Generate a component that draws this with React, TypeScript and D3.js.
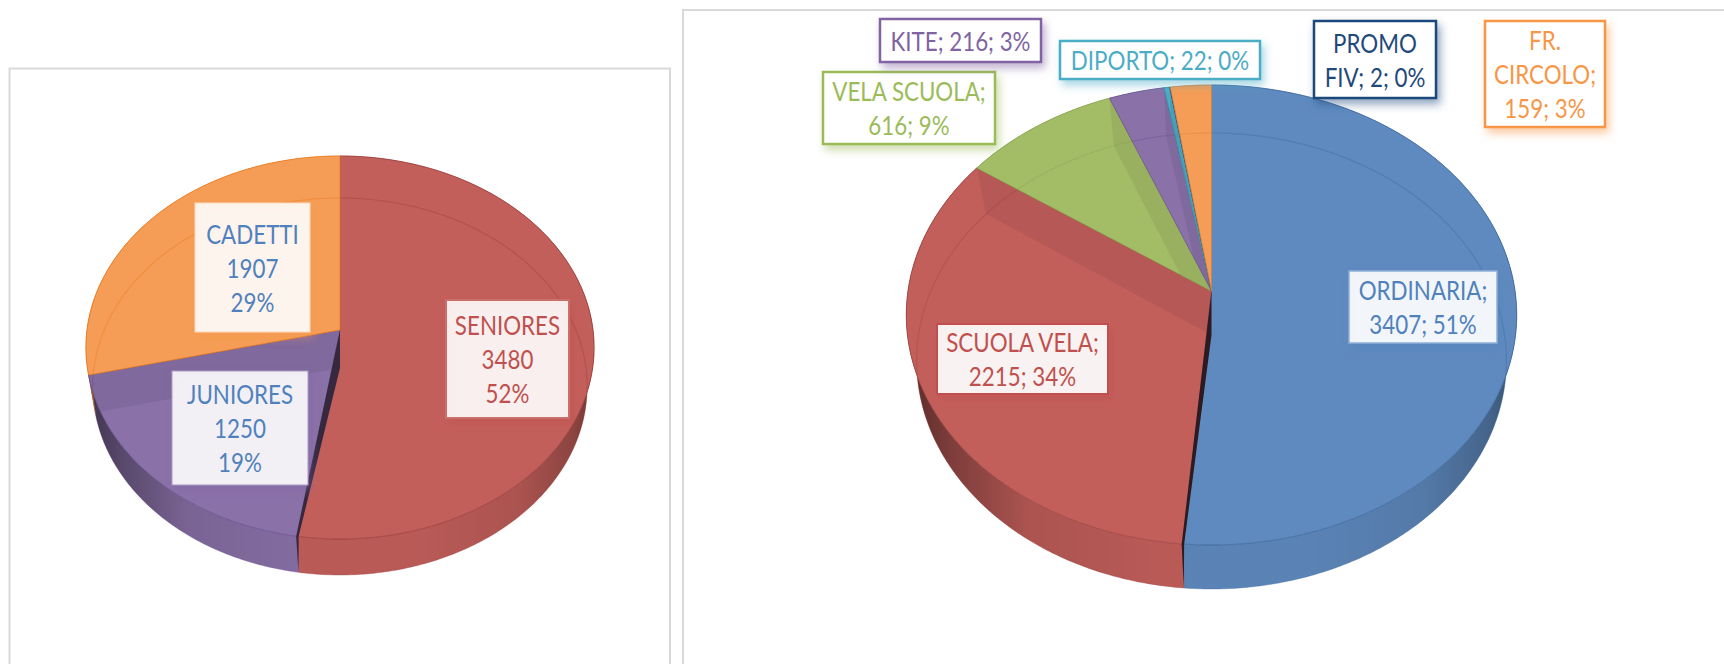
import React from "react";
import * as d3 from "d3";

// ---------- data ----------
const ageNames = ["SENIORES", "JUNIORES", "CADETTI"];
const ageValues = [3480, 1250, 1907];
const agePercents = [52, 19, 29];
const ageColors = ["#c35f5b", "#8a71a8", "#f59d56"];
const ageEdges = ["#9c3f3c", "#6a5290", "#e87a1e"];

const typeNames = ["ORDINARIA", "SCUOLA VELA", "VELA SCUOLA", "KITE", "DIPORTO", "PROMO FIV", "FR. CIRCOLO"];
const typeValues = [3407, 2215, 616, 216, 22, 2, 159];
const typePercents = [51, 34, 9, 3, 0, 0, 3];
const typeColors = ["#5f8abf", "#c35f5b", "#a3bd67", "#8a71a8", "#4bacc6", "#1f497d", "#f59d56"];
const typeEdges = ["#3f6a9f", "#a04542", "#8aa552", "#6f5690", "#3a93ab", "#1f497d", "#d9823c"];

// ---------- layout ----------
const leftPie = { id: "a", cx: 340, apex: 330, top: 156, front: 539, rx: 253, apex2: 368, top2: 198, front2: 575, rx2: 246, wedge: "#35283f" };
const rightPie = { id: "b", cx: 1211.5, apex: 291, top: 85, front: 545, rx: 303.5, apex2: 335, top2: 133, front2: 589, rx2: 293, wedge: "#2c1b20" };

const leftBoxes = [
  { i: 0, x: 446, y: 300, w: 123, h: 118, color: "#c0504d", border: "#c9706d", bw: 2, fill: "#c0504d", op: 0.88 },
  { i: 1, x: 172, y: 371, w: 136, h: 114, color: "#4f81bd", border: "#a99bc4", bw: 1, fill: "#8064a2", op: 0.88 },
  { i: 2, x: 195, y: 203, w: 115, h: 129, color: "#4f81bd", border: "#fbd9bb", bw: 1, fill: "#f79646", op: 0.88 },
];
const rightBoxes = [
  { i: 0, x: 1349, y: 271, w: 148, h: 72, color: "#4f81bd", border: "#8fb0d8", bw: 1.5, fill: "#4f81bd", op: 0.9, breaks: [1, 2] },
  { i: 1, x: 937, y: 324, w: 171, h: 70, color: "#c0504d", border: "#c0504d", bw: 2, fill: "#c0504d", op: 0.9, breaks: [2, 2] },
  { i: 2, x: 823, y: 72, w: 172, h: 72, color: "#9bbb59", border: "#9bbb59", bw: 2.5, fill: "#9bbb59", op: 1, breaks: [2, 2] },
  { i: 3, x: 880, y: 19, w: 161, h: 43, color: "#8064a2", border: "#8064a2", bw: 2.5, fill: "#8064a2", op: 1, breaks: [3] },
  { i: 4, x: 1060, y: 41, w: 200, h: 38, color: "#4bacc6", border: "#4bacc6", bw: 2.5, fill: "#4bacc6", op: 1, breaks: [3] },
  { i: 5, x: 1314, y: 21, w: 122, h: 77, color: "#1f497d", border: "#1f497d", bw: 2.5, fill: "#1f497d", op: 1, breaks: [1, 3] },
  { i: 6, x: 1485, y: 21, w: 120, h: 106, color: "#f79646", border: "#f79646", bw: 2.5, fill: "#f79646", op: 1, breaks: [1, 1, 2] },
];

const FONT = "Lato, 'Open Sans', sans-serif";

type Pt = [number, number];

function projector(cx: number, apex: number, top: number, front: number, rx: number) {
  const a = apex - top;
  const b = front - apex;
  const k = (b - a) / (b + a);
  const ry = a * (1 + k);
  return (t: number): Pt => {
    const u = Math.sin(t);
    const v = -Math.cos(t);
    const w = 1 - k * v;
    return [cx + (rx * u) / w, apex + (ry * v) / w];
  };
}

const line = d3.line<Pt>();
const closed = (pts: Pt[]) => (line(pts) as string) + "Z";

function samples(a: number, b: number): number[] {
  const n = Math.max(2, Math.ceil((b - a) / 0.01));
  return d3.range(n + 1).map((i) => a + ((b - a) * i) / n);
}

function Pie({ cfg, values, colors, edges }: { cfg: typeof leftPie; values: number[]; colors: string[]; edges: string[] }) {
  const arcs = d3.pie<number>().sort(null).value((d) => d)(values);
  const pTop = projector(cfg.cx, cfg.apex, cfg.top, cfg.front, cfg.rx);
  const pBot = projector(cfg.cx, cfg.apex2, cfg.top2, cfg.front2, cfg.rx2);
  const full = closed(samples(0, Math.PI * 2).map(pBot));
  const faces = arcs.map((a) => closed([[cfg.cx, cfg.apex] as Pt, ...samples(a.startAngle, a.endAngle).map(pTop)]));
  const gradId = `shade-${cfg.id}`;
  const first = arcs[0];
  const rimT = pTop(first.endAngle);
  const rimB = pBot(first.endAngle);
  const x0 = cfg.cx - cfg.rx;
  const x1 = cfg.cx + cfg.rx;
  return (
    <g>
      <defs>
        <linearGradient id={gradId} gradientUnits="userSpaceOnUse" x1={x0} x2={x1} y1={0} y2={0}>
          <stop offset="0" stopColor="#000" stopOpacity={0.55} />
          <stop offset="0.07" stopColor="#000" stopOpacity={0.36} />
          <stop offset="0.2" stopColor="#000" stopOpacity={0.12} />
          <stop offset="0.42" stopColor="#000" stopOpacity={0.05} />
          <stop offset="0.65" stopColor="#000" stopOpacity={0.05} />
          <stop offset="0.85" stopColor="#000" stopOpacity={0.12} />
          <stop offset="0.96" stopColor="#000" stopOpacity={0.28} />
          <stop offset="1" stopColor="#000" stopOpacity={0.42} />
        </linearGradient>
        {faces.map((d, i) => (
          <clipPath key={i} id={`face-${cfg.id}-${i}`}>
            <path d={d} />
          </clipPath>
        ))}
      </defs>
      {/* outer walls */}
      {arcs.map((a, i) => {
        const s = samples(a.startAngle, a.endAngle);
        const d = closed([...s.map(pTop), ...s.slice().reverse().map(pBot)]);
        return (
          <g key={i}>
            <path d={d} fill={colors[i]} />
            <path d={d} fill={`url(#${gradId})`} stroke={edges[i]} strokeOpacity={0.5} strokeWidth={0.7} />
          </g>
        );
      })}
      {/* top faces with what shows through them */}
      {arcs.map((a, i) => (
        <g key={i}>
          <path d={faces[i]} fill={colors[i]} />
          <g clipPath={`url(#face-${cfg.id}-${i})`}>
            {i > 0 && (
              <path
                d={closed([[cfg.cx, cfg.apex], pTop(a.endAngle), pBot(a.endAngle), [cfg.cx, cfg.apex2]])}
                fill={d3.rgb(colors[i]).darker(0.2).formatHex()}
              />
            )}
            <path d={full} fill="none" stroke={edges[i]} strokeOpacity={0.4} strokeWidth={1.2} />
          </g>
          <path d={faces[i]} fill="none" stroke={edges[i]} strokeWidth={1} strokeOpacity={0.8} />
        </g>
      ))}
      {/* dark inner wall at the front cut */}
      <path
        d={closed([
          [cfg.cx, cfg.apex],
          [cfg.cx, cfg.apex2],
          [rimT[0] + 1, rimT[1]],
          [rimB[0], rimB[1]],
          [rimT[0] - 1.5, rimT[1]],
        ])}
        fill={cfg.wedge}
      />
    </g>
  );
}

function Label({ box, lines, id }: { box: any; lines: string[]; id: string }) {
  const lh = 34;
  const cx = box.x + box.w / 2;
  const cy = box.y + box.h / 2;
  const startY = cy - ((lines.length - 1) * lh) / 2;
  return (
    <g>
      <filter id={id} x="-30%" y="-30%" width="160%" height="170%">
        <feDropShadow dx={3} dy={5} stdDeviation={4.5} floodColor={box.fill} floodOpacity={0.5} />
      </filter>
      <rect x={box.x} y={box.y} width={box.w} height={box.h} fill="#fff" fillOpacity={box.op} stroke={box.border} strokeWidth={box.bw} filter={`url(#${id})`} />
      {lines.map((l, i) => (
        <text
          key={i}
          transform={`translate(${cx},${startY + i * lh}) scale(0.86,1)`}
          fontFamily={FONT}
          fontSize={26}
          fill={box.color}
          textAnchor="middle"
          dominantBaseline="central"
        >
          {l}
        </text>
      ))}
    </g>
  );
}

function splitWords(text: string, breaks: number[]): string[] {
  const words = text.split(" ");
  let p = 0;
  return breaks.map((n) => {
    const s = words.slice(p, p + n).join(" ");
    p += n;
    return s;
  });
}

export default function App() {
  return (
    <svg width={1724} height={664} style={{ position: "absolute", left: 0, top: 0, background: "#fff" }}>
      <path d="M9.5 664V68.5H670V664" fill="none" stroke="#d9d9d9" strokeWidth={2} />
      <path d="M683 664V10H1724" fill="none" stroke="#d9d9d9" strokeWidth={2} />
      <Pie cfg={leftPie} values={ageValues} colors={ageColors} edges={ageEdges} />
      <Pie cfg={rightPie} values={typeValues} colors={typeColors} edges={typeEdges} />
      {leftBoxes.map((b) => (
        <Label key={b.i} id={`sl${b.i}`} box={b} lines={[ageNames[b.i], String(ageValues[b.i]), `${agePercents[b.i]}%`]} />
      ))}
      {rightBoxes.map((b) => (
        <Label
          key={b.i}
          id={`sr${b.i}`}
          box={b}
          lines={splitWords(`${typeNames[b.i]}; ${typeValues[b.i]}; ${typePercents[b.i]}%`, b.breaks)}
        />
      ))}
    </svg>
  );
}
